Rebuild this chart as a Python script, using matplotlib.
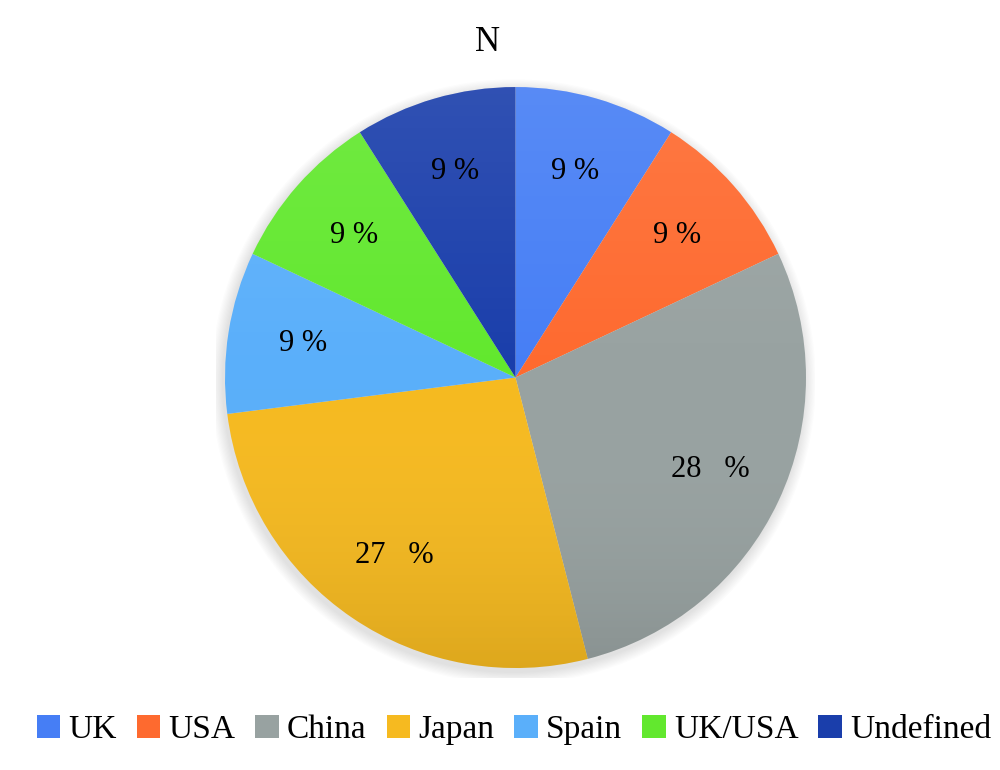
import numpy as np
import matplotlib
matplotlib.use('Agg')
import matplotlib.pyplot as plt
from matplotlib.patches import Circle
from matplotlib.colors import LinearSegmentedColormap

countries = ['UK', 'USA', 'China', 'Japan', 'Spain', 'UK/USA', 'Undefined']
shares = [9, 9, 28, 27, 9, 9, 9]
pct_labels = ['9 %', '9 %', '28   %', '27   %', '9 %', '9 %', '9 %']
colors = ['#467ef5', '#fe6a2f', '#98a2a1', '#f6ba20', '#5aaffa', '#62e82e', '#1a3eab']

plt.rcParams['font.family'] = ['Liberation Serif', 'DejaVu Serif']

fig = plt.figure(figsize=(10, 7.7), dpi=100)
ax = fig.add_axes([0.2155, 0.1201, 0.6, 0.7792])
R = 290.5

# soft shadow around the pie
for i in range(10):
    ax.add_patch(Circle((-2, -4), R + 1 + i * 1.2, color='black', alpha=0.012, lw=0, zorder=0))

wedges, texts = ax.pie(shares, colors=colors, startangle=90, counterclock=False,
                       radius=R, labels=pct_labels, labeldistance=0.74,
                       wedgeprops=dict(linewidth=0),
                       textprops=dict(fontsize=22, ha='center', va='center'))
for w in wedges:
    w.set_zorder(1)
for t in texts:
    t.set_zorder(4)

# vertical light-to-dark shading over the pie
shade = LinearSegmentedColormap.from_list('shade', [(1, 1, 1, 0.10), (1, 1, 1, 0.0), (0, 0, 0, 0.10)])
grad = np.linspace(0, 1, 256).reshape(-1, 1)
im = ax.imshow(grad, cmap=shade, extent=(-R, R, -R, R), origin='upper',
               aspect='auto', zorder=2, interpolation='bilinear')
clip = Circle((0, 0), R, transform=ax.transData)
im.set_clip_path(clip)

ax.set_xlim(-300, 300)
ax.set_ylim(-300, 300)
ax.set_aspect('equal')
ax.axis('off')

fig.text(0.487, 0.945, 'N', fontsize=25, ha='center', va='center')

fig.legend(wedges, countries, loc='center', bbox_to_anchor=(0.514, 0.052), ncol=7,
           frameon=False, fontsize=24, handlelength=0.7, handleheight=0.7,
           handletextpad=0.25, columnspacing=0.6, borderaxespad=0, borderpad=0)

fig.savefig('out.png', dpi=100)
